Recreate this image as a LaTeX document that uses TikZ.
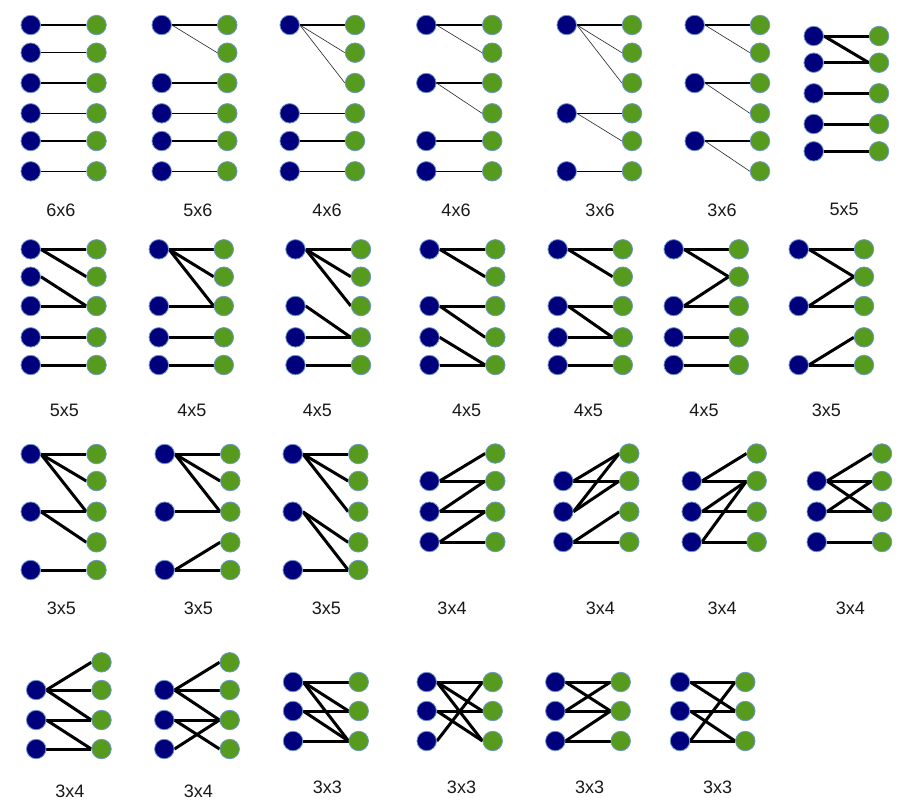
\documentclass[tikz,border=0pt]{standalone}
\usepackage{fontspec}
\setmainfont{Liberation Sans}
\pgfdeclarelayer{background}
\pgfdeclarelayer{paper}
\pgfsetlayers{paper,background,main}
\definecolor{navyc}{RGB}{0,0,125}
\definecolor{greenc}{RGB}{86,155,30}
\definecolor{rimc}{RGB}{110,150,200}
\tikzset{
  lnode/.style={circle, fill=navyc, draw=rimc, line width=0.8pt, minimum size=19.5pt, inner sep=0pt},
  rnode/.style={circle, fill=greenc, draw=rimc, line width=0.8pt, minimum size=19.5pt, inner sep=0pt},
  thinh/.style={line width=1.1pt, black},
  thind/.style={line width=0.6pt, black!85},
  thick/.style={line width=3pt, black},
  lab/.style={font=\fontsize{18}{20}\selectfont, text=black!90, inner sep=0pt}
}
\newcommand\mkL[3]{\foreach \i/\y in {#3} {\node[lnode] (#1l\i) at (#2,\y) {};}}
\newcommand\mkR[3]{\foreach \i/\y in {#3} {\node[rnode] (#1r\i) at (#2,\y) {};}}
\newcommand\mkE[3]{\begin{pgfonlayer}{background}\foreach \a/\b in {#3} {\draw[#2] (#1l\a.east) -- (#1r\b.west);}\end{pgfonlayer}}
\begin{document}
\begin{tikzpicture}[x=1pt,y=-1pt]
\begin{pgfonlayer}{paper}
\fill[white] (0,0) rectangle (907,807);
\end{pgfonlayer}
\useasboundingbox (0,0) rectangle (907,807);
% ---------- Row 1 ----------
% g1 6x6
\mkL{ga}{30.7}{1/25,2/52.7,3/83,4/113.3,5/141,6/171.3}
\mkR{ga}{96.5}{1/25,2/52.7,3/83,4/113.3,5/141,6/171.3}
\mkE{ga}{thinh}{1/1,2/2,3/3,4/4,5/5,6/6}
\node[lab] (ta) at (61,210) {6x6};
% g2 5x6
\mkL{gb}{161.7}{1/25,3/83,4/113.3,5/141,6/171.3}
\mkR{gb}{227.3}{1/25,2/52.7,3/83,4/113.3,5/141,6/171.3}
\mkE{gb}{thinh}{1/1,3/3,4/4,5/5,6/6}
\mkE{gb}{thind}{1/2}
\node[lab] (tb) at (198,210) {5x6};
% g3 4x6
\mkL{gc}{289.7}{1/25,4/113.3,5/141,6/171.3}
\mkR{gc}{355}{1/25,2/52.7,3/83,4/113.3,5/141,6/171.3}
\mkE{gc}{thinh}{1/1,4/4,5/5,6/6}
\mkE{gc}{thind}{1/2,1/3}
\node[lab] (tc) at (327,210) {4x6};
% g4 4x6
\mkL{gd}{426.3}{1/25,3/83,5/141,6/171.3}
\mkR{gd}{492.2}{1/25,2/52.7,3/83,4/113.3,5/141,6/171.3}
\mkE{gd}{thinh}{1/1,3/3,5/5,6/6}
\mkE{gd}{thind}{1/2,3/4}
\node[lab] (td) at (456,210) {4x6};
% g5 3x6
\mkL{ge}{566.7}{1/25,4/113.3,6/171.3}
\mkR{ge}{632}{1/25,2/52.7,3/83,4/113.3,5/141,6/171.3}
\mkE{ge}{thinh}{1/1,4/4,6/6}
\mkE{ge}{thind}{1/2,1/3,4/5}
\node[lab] (te) at (600,210) {3x6};
% g6 3x6
\mkL{gf}{694.7}{1/25,3/83,5/141}
\mkR{gf}{760}{1/25,2/52.7,3/83,4/113.3,5/141,6/171.3}
\mkE{gf}{thinh}{1/1,3/3,5/5}
\mkE{gf}{thind}{1/2,3/4,5/6}
\node[lab] (tf) at (722,210) {3x6};
% g7 5x5
\mkL{gg}{813.7}{1/36,2/62.7,3/93.3,4/124,5/151.3}
\mkR{gg}{879}{1/36,2/62.7,3/93.3,4/124,5/151.3}
\mkE{gg}{thick}{1/1,1/2,2/2,3/3,4/4,5/5}
\node[lab] (tg) at (844,209) {5x5};
% ---------- Row 2 ----------
% g8 5x5
\mkL{gh}{30.7}{1/249.3,2/276.7,3/306,4/337.3,5/365}
\mkR{gh}{96.5}{1/249.3,2/276.7,3/306,4/337.3,5/365}
\mkE{gh}{thick}{1/1,1/2,2/3,3/3,4/4,5/5}
\node[lab] (th) at (64.3,410) {5x5};
% g9 4x5
\mkL{gi}{158.8}{1/249.3,3/306,4/337.3,5/365}
\mkR{gi}{223.8}{1/249.3,2/276.7,3/306,4/337.3,5/365}
\mkE{gi}{thick}{1/1,1/2,1/3,3/3,4/4,5/5}
\node[lab] (ti) at (192,410) {4x5};
% g10 4x5
\mkL{gj}{295.5}{1/249.3,3/306,4/337.3,5/365}
\mkR{gj}{361}{1/249.3,2/276.7,3/306,4/337.3,5/365}
\mkE{gj}{thick}{1/1,1/2,1/3,3/4,4/4,5/5}
\node[lab] (tj) at (317.3,410) {4x5};
% g11 4x5
\mkL{gk}{429.5}{1/249.3,3/306,4/337.3,5/365}
\mkR{gk}{495.3}{1/249.3,2/276.7,3/306,4/337.3,5/365}
\mkE{gk}{thick}{1/1,1/2,3/3,3/4,4/5,5/5}
\node[lab] (tk) at (466.7,410) {4x5};
% g12 4x5
\mkL{gl}{557.7}{1/249.3,3/306,4/337.3,5/365}
\mkR{gl}{622.8}{1/249.3,2/276.7,3/306,4/337.3,5/365}
\mkE{gl}{thick}{1/1,1/2,3/3,3/4,4/4,5/5}
\node[lab] (tl) at (588.3,410) {4x5};
% g13 4x5
\mkL{gm}{673.7}{1/249.3,3/306,4/337.3,5/365}
\mkR{gm}{738.8}{1/249.3,2/276.7,3/306,4/337.3,5/365}
\mkE{gm}{thick}{1/1,1/2,3/2,3/3,4/4,5/5}
\node[lab] (tm) at (704,410) {4x5};
% g14 3x5
\mkL{gn}{798.7}{1/249.3,3/306,5/365}
\mkR{gn}{864}{1/249.3,2/276.7,3/306,4/337.3,5/365}
\mkE{gn}{thick}{1/1,1/2,3/2,3/3,5/4,5/5}
\node[lab] (tn) at (826.3,410) {3x5};
% ---------- Row 3 ----------
% g15 3x5
\mkL{go}{30.7}{1/454,3/511.7,5/570}
\mkR{go}{96.5}{1/454,2/481,3/511.7,4/542.3,5/570}
\mkE{go}{thick}{1/1,1/2,1/3,3/3,3/4,5/5}
\node[lab] (to) at (61.3,608.3) {3x5};
% g16 3x5
\mkL{gp}{164.7}{1/454,3/511.7,5/570}
\mkR{gp}{230.3}{1/454,2/481,3/511.7,4/542.3,5/570}
\mkE{gp}{thick}{1/1,1/2,1/3,3/3,5/4,5/5}
\node[lab] (tp) at (198.3,608.3) {3x5};
% g17 3x5
\mkL{gq}{292.7}{1/454,3/511.7,5/570}
\mkR{gq}{358.3}{1/454,2/481,3/511.7,4/542.3,5/570}
\mkE{gq}{thick}{1/1,1/2,1/3,3/4,3/5,5/5}
\node[lab] (tq) at (326.3,608.3) {3x5};
% g18 3x4
\mkL{gr}{429.5}{2/481,3/511.7,4/542}
\mkR{gr}{495.3}{1/453.5,2/481,3/511.7,4/542}
\mkE{gr}{thick}{2/1,2/2,3/2,3/3,4/3,4/4}
\node[lab] (tr) at (452,608.3) {3x4};
% g19 3x4
\mkL{gs}{563.3}{2/481,3/511.7,4/542}
\mkR{gs}{629.3}{1/453.5,2/481,3/511.7,4/542}
\mkE{gs}{thick}{2/1,2/2,3/1,3/2,4/3,4/4}
\node[lab] (ts) at (600.3,608.3) {3x4};
% g20 3x4
\mkL{gt}{691.7}{2/481,3/511.7,4/542}
\mkR{gt}{756.7}{1/453.5,2/481,3/511.7,4/542}
\mkE{gt}{thick}{2/1,2/2,3/2,3/3,4/2,4/4}
\node[lab] (tt) at (722.2,608.3) {3x4};
% g21 3x4
\mkL{gu}{816.7}{2/481,3/511.7,4/542}
\mkR{gu}{882}{1/453.5,2/481,3/511.7,4/542}
\mkE{gu}{thick}{2/1,2/2,2/3,3/2,3/3,4/4}
\node[lab] (tu) at (850.3,608.3) {3x4};
% ---------- Row 4 ----------
% g22 3x4
\mkL{gv}{36.2}{2/690,3/720,4/749}
\mkR{gv}{101.5}{1/662.3,2/690,3/720,4/749}
\mkE{gv}{thick}{2/1,2/2,2/3,3/3,3/4,4/4}
\node[lab] (tv) at (70,791) {3x4};
% g23 3x4
\mkL{gw}{164.3}{2/690,3/720,4/749}
\mkR{gw}{229.7}{1/662.3,2/690,3/720,4/749}
\mkE{gw}{thick}{2/1,2/2,2/3,3/3,3/4,4/3}
\node[lab] (tw) at (198.3,791) {3x4};
% g24 3x3
\mkL{gx}{293}{1/682,2/711,3/741}
\mkR{gx}{358.7}{1/682,2/711,3/741}
\mkE{gx}{thick}{1/1,1/2,1/3,2/2,2/3,3/3}
\node[lab] (tx) at (327.3,787.7) {3x3};
% g25 3x3
\mkL{gy}{426.7}{1/682,2/711,3/741}
\mkR{gy}{492.7}{1/682,2/711,3/741}
\mkE{gy}{thick}{1/1,1/2,1/3,2/2,2/3,3/1}
\node[lab] (ty) at (461.5,787.7) {3x3};
% g26 3x3
\mkL{gz}{555.3}{1/682,2/711,3/741}
\mkR{gz}{620.7}{1/682,2/711,3/741}
\mkE{gz}{thick}{1/1,1/2,2/1,2/2,3/2,3/3}
\node[lab] (tz) at (589.7,787.7) {3x3};
% g27 3x3
\mkL{gzz}{680}{1/682,2/711,3/741}
\mkR{gzz}{745.3}{1/682,2/711,3/741}
\mkE{gzz}{thick}{1/1,1/2,2/2,2/3,3/1,3/3}
\node[lab] (tzz) at (717.7,787.7) {3x3};
\end{tikzpicture}
\end{document}
